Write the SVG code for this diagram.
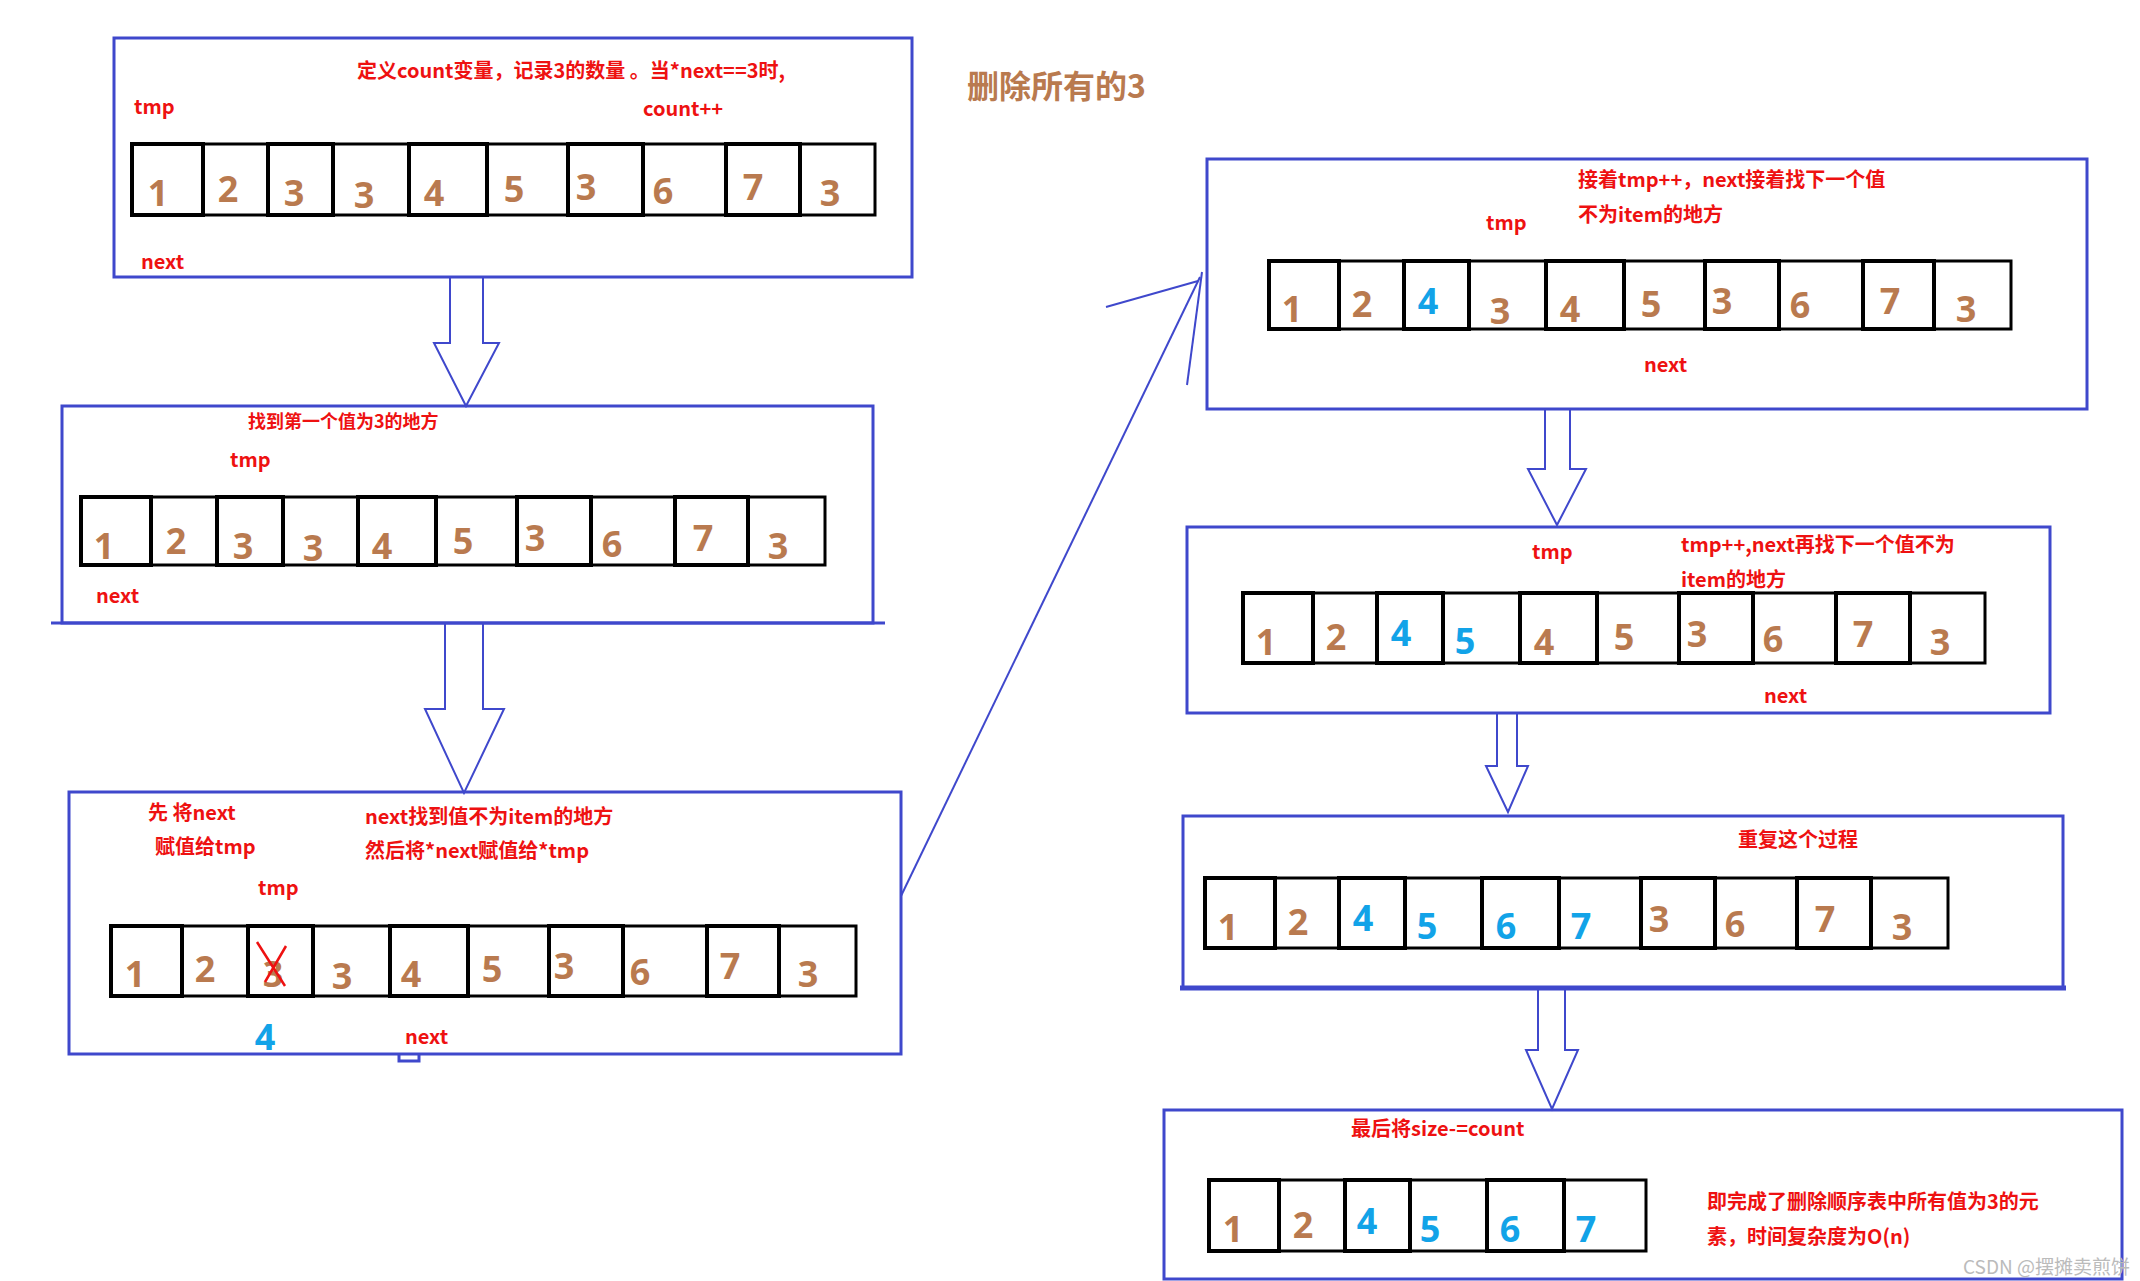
<svg xmlns="http://www.w3.org/2000/svg" width="2140" height="1281" viewBox="0 0 2140 1281">
<style>
.box{fill:none;stroke:#3f48cc;stroke-width:3}
.ln{fill:none;stroke:#3f48cc;stroke-width:2}
.arr{fill:#fff;stroke:#3f48cc;stroke-width:2}
.cell{fill:none;stroke:#000;stroke-width:3}
.thk{fill:none;stroke:#000;stroke-width:4}
.d{font-family:"Noto Sans","DejaVu Sans",sans-serif;font-weight:bold;font-size:36px;fill:#b97a4f;text-anchor:middle}
.b{fill:#12a3e8}
.r{font-family:"Noto Sans CJK SC","Noto Sans",sans-serif;font-weight:bold;font-size:20px;fill:#ee1111}
.t{font-family:"Noto Sans CJK SC","Noto Sans",sans-serif;font-weight:bold;font-size:32px;fill:#b97a4f}
.w{font-family:"Noto Sans CJK SC","Liberation Sans",sans-serif;font-size:19px;fill:#bbbbbb}
</style>
<rect width="2140" height="1281" fill="#fff"/>
<text class="t" x="967" y="98">删除所有的3</text>
<g id="connectors">
<path class="arr" d="M450,277 V343 H434 L466,406 L499,343 H483 V277 Z"/>
<path class="arr" d="M445,623 V709 H425 L464,793 L504,709 H483 V623 Z"/>
<path class="arr" d="M1545,409 V469 H1528 L1557,525 L1586,469 H1570 V409 Z"/>
<path class="arr" d="M1497,713 V766 H1486 L1508,812 L1528,766 H1517 V713 Z"/>
<path class="arr" d="M1538,988 V1050 H1526 L1552,1109 L1578,1050 H1565 V988 Z"/>
<path class="ln" d="M901,896 L1200,277"/>
<path class="ln" d="M1106,307 L1198,281"/>
<path class="ln" d="M1187,385 L1202,272"/>
</g>
<g id="step1">
<rect class="box" x="114" y="38" width="798" height="239"/>
<text class="r" x="357" y="78">定义count变量，记录3的数量 。当*next==3时,</text>
<text class="r" x="643" y="116">count++</text>
<text class="r" x="134" y="114">tmp</text>
<text class="r" x="141" y="269">next</text>
<rect class="cell" x="132" y="144" width="743" height="71"/>
<rect class="thk" x="132" y="144" width="71" height="71"/><rect class="thk" x="268" y="144" width="65" height="71"/><rect class="thk" x="409" y="144" width="78" height="71"/><rect class="thk" x="568" y="144" width="75" height="71"/><rect class="thk" x="726" y="144" width="74" height="71"/>
<path class="cell" d="M203,144V215M333,144V215M487,144V215M643,144V215M800,144V215"/>
<text class="d" x="158" y="206">1</text><text class="d" x="228" y="202">2</text><text class="d" x="294" y="206">3</text><text class="d" x="364" y="208">3</text><text class="d" x="434" y="206">4</text><text class="d" x="514" y="202">5</text><text class="d" x="586" y="200">3</text><text class="d" x="663" y="204">6</text><text class="d" x="753" y="200">7</text><text class="d" x="830" y="206">3</text>
</g>
<g id="step2">
<rect class="box" x="62" y="406" width="811" height="217"/>
<path class="box" d="M51,623H885"/>
<text class="r" x="248" y="428" style="font-size:18px">找到第一个值为3的地方</text>
<text class="r" x="230" y="467">tmp</text>
<text class="r" x="96" y="603">next</text>
<rect class="cell" x="81" y="497" width="744" height="68"/>
<rect class="thk" x="81" y="497" width="70" height="68"/><rect class="thk" x="217" y="497" width="66" height="68"/><rect class="thk" x="358" y="497" width="78" height="68"/><rect class="thk" x="517" y="497" width="74" height="68"/><rect class="thk" x="675" y="497" width="73" height="68"/>
<path class="cell" d="M151,497V565M283,497V565M436,497V565M591,497V565M748,497V565"/>
<text class="d" x="104" y="559">1</text><text class="d" x="176" y="554">2</text><text class="d" x="243" y="559">3</text><text class="d" x="313" y="561">3</text><text class="d" x="382" y="559">4</text><text class="d" x="463" y="554">5</text><text class="d" x="535" y="551">3</text><text class="d" x="612" y="557">6</text><text class="d" x="703" y="551">7</text><text class="d" x="778" y="559">3</text>
</g>
<g id="step3">
<rect class="box" x="69" y="792" width="832" height="262"/>
<path class="box" d="M399,1054v7h20v-7"/>
<text class="r" x="148" y="820">先 将next</text>
<text class="r" x="155" y="854">赋值给tmp</text>
<text class="r" x="365" y="824">next找到值不为item的地方</text>
<text class="r" x="365" y="858">然后将*next赋值给*tmp</text>
<text class="r" x="258" y="895">tmp</text>
<rect class="cell" x="111" y="926" width="745" height="70"/>
<rect class="thk" x="111" y="926" width="71" height="70"/><rect class="thk" x="248" y="926" width="65" height="70"/><rect class="thk" x="390" y="926" width="78" height="70"/><rect class="thk" x="549" y="926" width="74" height="70"/><rect class="thk" x="707" y="926" width="72" height="70"/>
<path class="cell" d="M182,926V996M313,926V996M468,926V996M623,926V996M779,926V996"/>
<text class="d" x="135" y="987">1</text><text class="d" x="205" y="982">2</text><text class="d" x="273" y="987">3</text><text class="d" x="342" y="989">3</text><text class="d" x="411" y="987">4</text><text class="d" x="492" y="982">5</text><text class="d" x="564" y="979">3</text><text class="d" x="640" y="985">6</text><text class="d" x="730" y="979">7</text><text class="d" x="808" y="987">3</text>
<path d="M257,942L285,986M286,946L265,982" stroke="#ee1111" stroke-width="2.5" fill="none"/>
<text class="d b" x="265" y="1050">4</text>
<text class="r" x="405" y="1044">next</text>
</g>
<g id="step4">
<rect class="box" x="1207" y="159" width="880" height="250"/>
<text class="r" x="1578" y="187">接着tmp++，next接着找下一个值</text>
<text class="r" x="1578" y="222">不为item的地方</text>
<text class="r" x="1486" y="230">tmp</text>
<text class="r" x="1644" y="372">next</text>
<rect class="cell" x="1269" y="261" width="742" height="68"/>
<rect class="thk" x="1269" y="261" width="70" height="68"/><rect class="thk" x="1404" y="261" width="65" height="68"/><rect class="thk" x="1546" y="261" width="78" height="68"/><rect class="thk" x="1705" y="261" width="74" height="68"/><rect class="thk" x="1863" y="261" width="71" height="68"/>
<path class="cell" d="M1339,261V329M1469,261V329M1624,261V329M1779,261V329M1934,261V329"/>
<text class="d" x="1292" y="322">1</text><text class="d" x="1362" y="317">2</text><text class="d b" x="1428" y="314">4</text><text class="d" x="1500" y="324">3</text><text class="d" x="1570" y="322">4</text><text class="d" x="1651" y="317">5</text><text class="d" x="1722" y="314">3</text><text class="d" x="1800" y="318">6</text><text class="d" x="1890" y="314">7</text><text class="d" x="1966" y="322">3</text>
</g>
<g id="step5">
<rect class="box" x="1187" y="527" width="863" height="186"/>
<text class="r" x="1532" y="559">tmp</text>
<text class="r" x="1681" y="552">tmp++,next再找下一个值不为</text>
<text class="r" x="1681" y="587">item的地方</text>
<text class="r" x="1764" y="703">next</text>
<rect class="cell" x="1243" y="593" width="742" height="70"/>
<rect class="thk" x="1243" y="593" width="70" height="70"/><rect class="thk" x="1377" y="593" width="66" height="70"/><rect class="thk" x="1520" y="593" width="77" height="70"/><rect class="thk" x="1679" y="593" width="74" height="70"/><rect class="thk" x="1836" y="593" width="74" height="70"/>
<path class="cell" d="M1313,593V663M1443,593V663M1597,593V663M1753,593V663M1910,593V663"/>
<text class="d" x="1266" y="655">1</text><text class="d" x="1336" y="650">2</text><text class="d b" x="1401" y="646">4</text><text class="d b" x="1465" y="654">5</text><text class="d" x="1544" y="655">4</text><text class="d" x="1624" y="650">5</text><text class="d" x="1697" y="647">3</text><text class="d" x="1773" y="652">6</text><text class="d" x="1863" y="647">7</text><text class="d" x="1940" y="655">3</text>
</g>
<g id="step6">
<rect class="box" x="1183" y="816" width="880" height="172"/>
<path class="box" d="M1180,988H2066" style="stroke-width:5"/>
<text class="r" x="1738" y="847">重复这个过程</text>
<rect class="cell" x="1205" y="878" width="743" height="70"/>
<rect class="thk" x="1205" y="878" width="70" height="70"/><rect class="thk" x="1339" y="878" width="66" height="70"/><rect class="thk" x="1482" y="878" width="77" height="70"/><rect class="thk" x="1641" y="878" width="74" height="70"/><rect class="thk" x="1797" y="878" width="74" height="70"/>
<path class="cell" d="M1275,878V948M1405,878V948M1559,878V948M1715,878V948M1871,878V948"/>
<text class="d" x="1228" y="940">1</text><text class="d" x="1298" y="935">2</text><text class="d b" x="1363" y="931">4</text><text class="d b" x="1427" y="939">5</text><text class="d b" x="1506" y="939">6</text><text class="d b" x="1581" y="939">7</text><text class="d" x="1659" y="932">3</text><text class="d" x="1735" y="937">6</text><text class="d" x="1825" y="932">7</text><text class="d" x="1902" y="940">3</text>
</g>
<g id="step7">
<rect class="box" x="1164" y="1110" width="958" height="169"/>
<text class="r" x="1351" y="1136">最后将size-=count</text>
<rect class="cell" x="1209" y="1180" width="437" height="71"/>
<rect class="thk" x="1209" y="1180" width="70" height="71"/><rect class="thk" x="1345" y="1180" width="65" height="71"/><rect class="thk" x="1487" y="1180" width="77" height="71"/>
<path class="cell" d="M1279,1180V1251M1410,1180V1251M1564,1180V1251"/>
<text class="d" x="1233" y="1242">1</text><text class="d" x="1303" y="1238">2</text><text class="d b" x="1367" y="1234">4</text><text class="d b" x="1430" y="1242">5</text><text class="d b" x="1510" y="1242">6</text><text class="d b" x="1586" y="1242">7</text>
<text class="r" x="1707" y="1209">即完成了删除顺序表中所有值为3的元</text>
<text class="r" x="1707" y="1244">素，时间复杂度为O(n)</text>
</g>
<text class="w" x="2130" y="1274" text-anchor="end">CSDN @摆摊卖煎饼</text>
</svg>
